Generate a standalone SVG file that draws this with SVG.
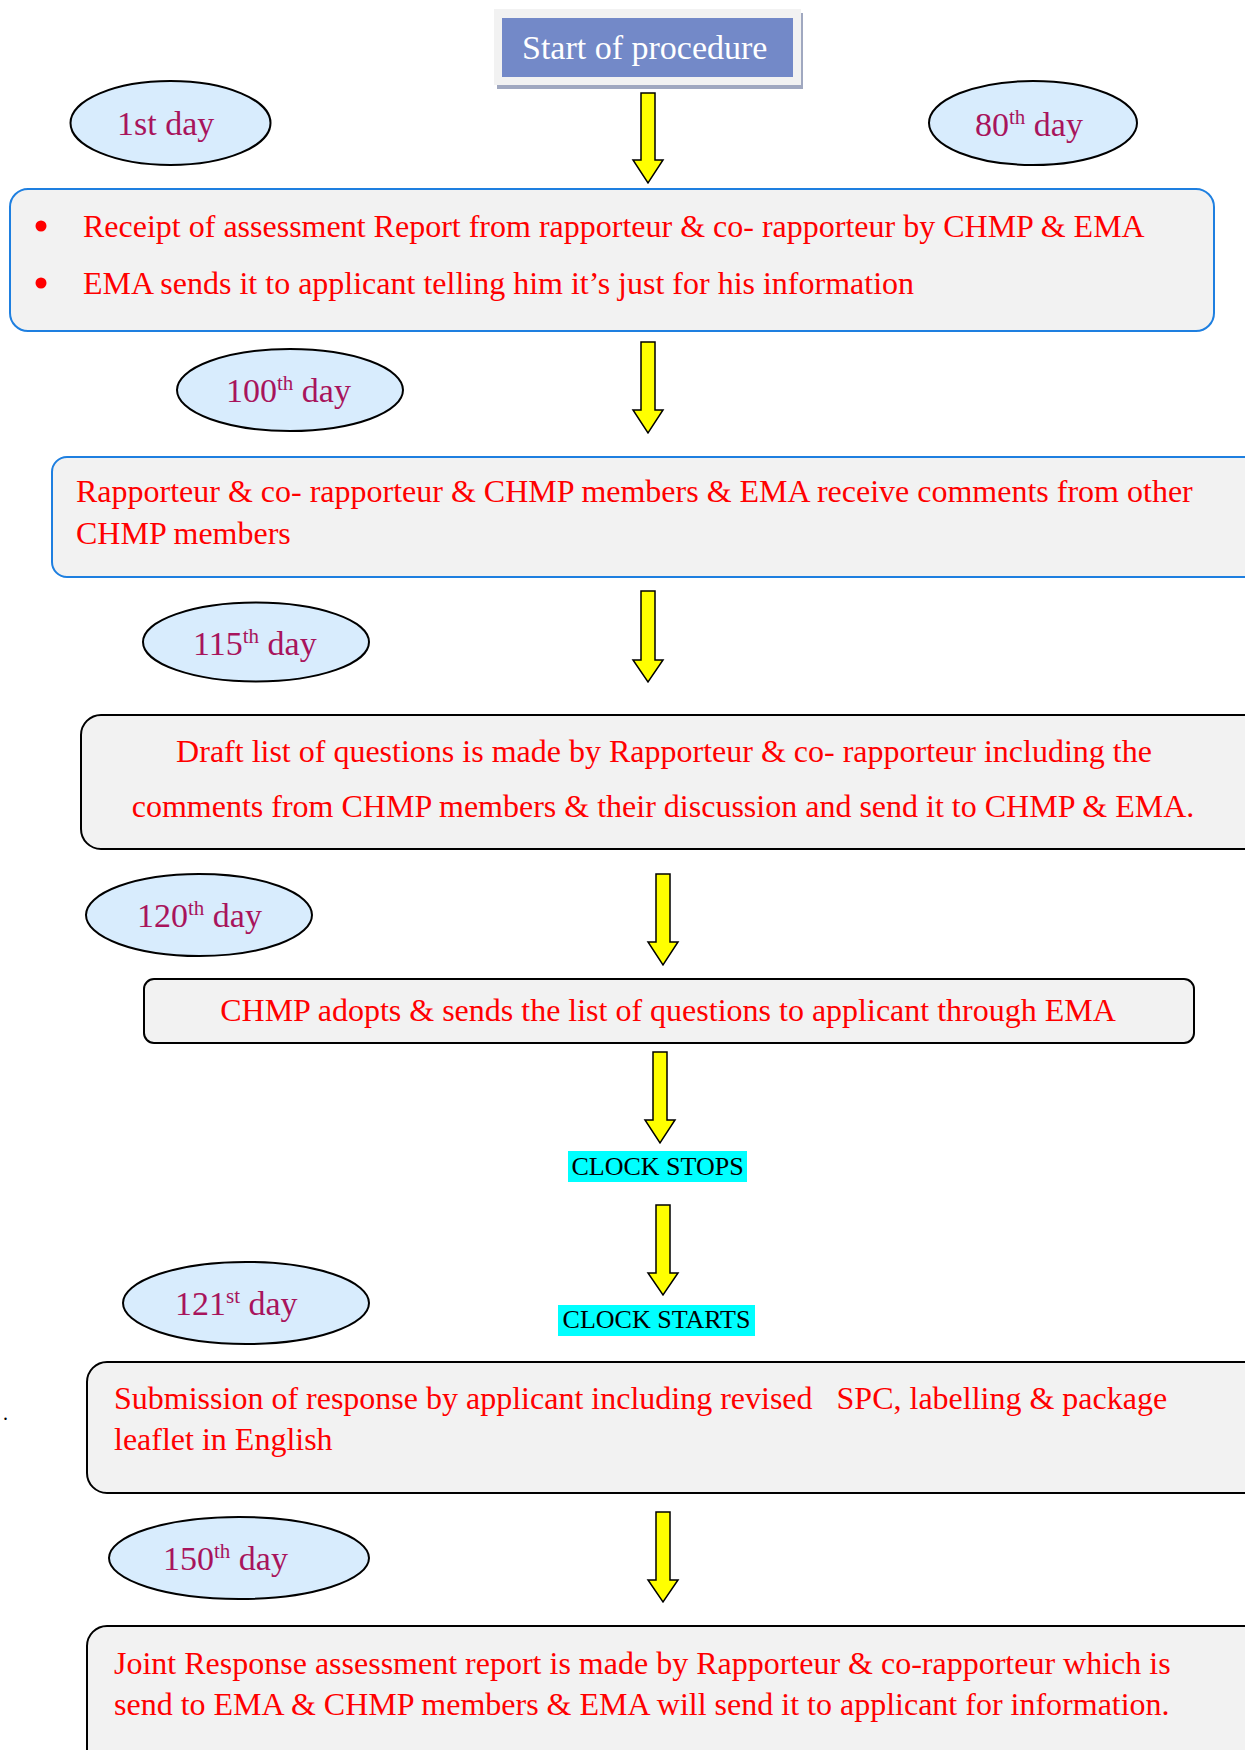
<svg xmlns="http://www.w3.org/2000/svg" width="1245" height="1750" viewBox="0 0 1245 1750">
<style>
.box{fill:#f2f2f2;stroke-width:2}
.blue{stroke:#1e7fe0}
.black{stroke:#000}
.day{fill:#d8ecfd;stroke:#000;stroke-width:2}
.dtxt{font-family:"Liberation Serif",serif;font-size:34px;fill:#a8145c}
.rtxt{font-family:"Liberation Serif",serif;font-size:32px;fill:#ff0000}
.ctxt{font-family:"Liberation Serif",serif;font-size:26px;fill:#000}
.arrow{fill:#ffff00;stroke:#000;stroke-width:1.5;stroke-linejoin:miter}
.sup{font-size:21px}
</style>
<rect width="1245" height="1750" fill="#fff"/>

<g id="connectors">
<path class="arrow" d="M641,93 H655 V160 H663 L648,183 L633,160 H641 Z"/>
<path class="arrow" d="M641,342 H655 V410 H663 L648,433 L633,410 H641 Z"/>
<path class="arrow" d="M641,591 H655 V660 H663 L648,682 L633,660 H641 Z"/>
<path class="arrow" d="M656,874 H670 V942 H678 L663,965 L648,942 H656 Z"/>
<path class="arrow" d="M653,1052 H667 V1120 H675 L660,1143 L645,1120 H653 Z"/>
<path class="arrow" d="M656,1205 H670 V1273 H678 L663,1295 L648,1273 H656 Z"/>
<path class="arrow" d="M656,1512 H670 V1580 H678 L663,1602 L648,1580 H656 Z"/>
</g>

<g id="start">
<rect x="497" y="13" width="306" height="76" fill="#a0a8c0"/>
<rect x="494" y="9" width="307" height="76" fill="#f2f2f2"/>
<rect x="502" y="18" width="291" height="59" fill="#7389c8"/>
<text x="522" y="59" font-family="Liberation Serif,serif" font-size="34" fill="#fff">Start of procedure</text>
</g>

<g id="day1">
<ellipse class="day" cx="170.5" cy="123" rx="100" ry="42"/>
<text class="dtxt" x="117" y="135">1st day</text>
</g>
<g id="day80">
<ellipse class="day" cx="1033" cy="123" rx="104" ry="42"/>
<text class="dtxt" x="975" y="136">80<tspan class="sup" dy="-12">th</tspan><tspan dy="12"> day</tspan></text>
</g>

<g id="receipt">
<rect class="box blue" x="10" y="189" width="1204" height="142" rx="18"/>
<circle cx="41" cy="226" r="5.5" fill="#ff0000"/>
<circle cx="41" cy="283" r="5.5" fill="#ff0000"/>
<text class="rtxt" x="83" y="237">Receipt of assessment Report from rapporteur &amp; co- rapporteur by CHMP &amp; EMA</text>
<text class="rtxt" x="83" y="294">EMA sends it to applicant telling him it’s just for his information</text>
</g>

<g id="day100">
<ellipse class="day" cx="290" cy="390" rx="113" ry="41"/>
<text class="dtxt" x="226" y="402">100<tspan class="sup" dy="-12">th</tspan><tspan dy="12"> day</tspan></text>
</g>

<g id="comments">
<rect class="box blue" x="52" y="457" width="1220" height="120" rx="15"/>
<text class="rtxt" x="76" y="502">Rapporteur &amp; co- rapporteur &amp; CHMP members &amp; EMA receive comments from other</text>
<text class="rtxt" x="76" y="544">CHMP members</text>
</g>

<g id="day115">
<ellipse class="day" cx="256" cy="642" rx="113" ry="39.5"/>
<text class="dtxt" x="193" y="655">115<tspan class="sup" dy="-12">th</tspan><tspan dy="12"> day</tspan></text>
</g>

<g id="draft">
<rect class="box black" x="81" y="715" width="1190" height="134" rx="20"/>
<text class="rtxt" x="664" y="762" text-anchor="middle">Draft list of questions is made by Rapporteur &amp; co- rapporteur including the</text>
<text class="rtxt" x="663" y="817" text-anchor="middle">comments from CHMP members &amp; their discussion and send it to CHMP &amp; EMA.</text>
</g>

<g id="day120">
<ellipse class="day" cx="199" cy="915" rx="113" ry="41"/>
<text class="dtxt" x="137" y="927">120<tspan class="sup" dy="-12">th</tspan><tspan dy="12"> day</tspan></text>
</g>

<g id="adopt">
<rect class="box black" x="144" y="979" width="1050" height="64" rx="10"/>
<text class="rtxt" x="668" y="1021" text-anchor="middle">CHMP adopts &amp; sends the list of questions to applicant through EMA</text>
</g>

<g id="clockstops">
<rect x="568" y="1151" width="179" height="31" fill="#00ffff"/>
<text class="ctxt" x="657.5" y="1175" text-anchor="middle">CLOCK STOPS</text>
</g>

<g id="day121">
<ellipse class="day" cx="246" cy="1303" rx="123" ry="41"/>
<text class="dtxt" x="175" y="1315">121<tspan class="sup" dy="-12">st</tspan><tspan dy="12"> day</tspan></text>
</g>

<g id="clockstarts">
<rect x="558" y="1305" width="197" height="31" fill="#00ffff"/>
<text class="ctxt" x="656.5" y="1328" text-anchor="middle">CLOCK STARTS</text>
</g>

<text x="3" y="1420" font-family="Liberation Serif,serif" font-size="20" fill="#000">.</text>

<g id="submission">
<rect class="box black" x="87" y="1362" width="1190" height="131" rx="20"/>
<text class="rtxt" x="114" y="1409" xml:space="preserve">Submission of response by applicant including revised   SPC, labelling &amp; package</text>
<text class="rtxt" x="114" y="1450">leaflet in English</text>
</g>

<g id="day150">
<ellipse class="day" cx="239" cy="1558" rx="130" ry="41"/>
<text class="dtxt" x="163" y="1570">150<tspan class="sup" dy="-12">th</tspan><tspan dy="12"> day</tspan></text>
</g>

<g id="joint">
<rect class="box black" x="87" y="1626" width="1190" height="170" rx="20"/>
<text class="rtxt" x="114" y="1674">Joint Response assessment report is made by Rapporteur &amp; co-rapporteur which is</text>
<text class="rtxt" x="114" y="1715">send to EMA &amp; CHMP members &amp; EMA will send it to applicant for information.</text>
</g>
</svg>
